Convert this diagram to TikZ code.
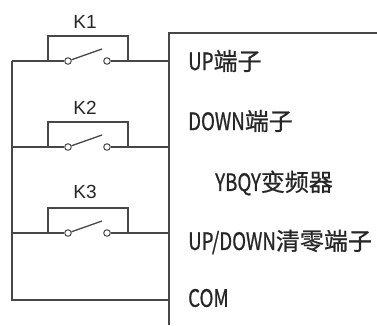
\documentclass[tikz,border=0pt]{standalone}
\usepackage{fontspec}
\setmainfont{Liberation Sans}
\newfontfamily\cjk[FakeBold=0.8]{Noto Sans CJK SC}
\newfontfamily\narrowlat[FakeStretch=0.78,FakeBold=0.8]{Noto Sans CJK SC}
\newcommand{\nlat}[1]{{\narrowlat #1}}
\tikzset{
  wire/.style={draw=black!72, line width=1.3pt},
  contact/.style={circle, draw=black!72, line width=1pt, fill=white,
    inner sep=0pt, minimum size=6.5pt},
  klabel/.style={font=\fontsize{19}{19}\selectfont, text=black!85, inner sep=0pt},
  term/.style={font=\cjk\fontsize{24}{24}\selectfont, text=black!85, inner sep=0pt, anchor=west}
}
\begin{document}
\begin{tikzpicture}[x=1pt,y=-1pt]
      \useasboundingbox (0,0) rectangle (377,325);
      % converter box
      \coordinate (boxr) at (377,33);
      \coordinate (boxtl) at (169,33);
      \coordinate (boxbl) at (169,325);
      \draw[wire] (boxr) -- (boxtl) -- (boxbl);
      \draw
        (188,61) node[term] (up){\nlat{UP}端子}
        (188,121) node[term] (down){\nlat{DOWN}端子}
        (215,183) node[term] (ybqy){\nlat{YBQY}变频器}
        (188,242) node[term] (clr){\nlat{UP/DOWN}清零端子}
        (188,298) node[term] (com){\nlat{COM}};
      % switches
      \draw
        (85,22) node[klabel] (k1){K1}
        (85,108) node[klabel] (k2){K2}
        (85,192) node[klabel] (k3){K3};
      \draw
        (68,61) node[contact] (k1a){}
        (107,61) node[contact] (k1b){}
        (68,147) node[contact] (k2a){}
        (107,147) node[contact] (k2b){}
        (68,233) node[contact] (k3a){}
        (107,233) node[contact] (k3b){};
      \coordinate (bus1) at (12,61);
      \coordinate (bus2) at (12,147);
      \coordinate (bus3) at (12,233);
      \coordinate (bus4) at (12,300);
      \coordinate (s1l) at (48,61);
      \coordinate (s1r) at (128,61);
      \coordinate (s2l) at (48,147);
      \coordinate (s2r) at (128,147);
      \coordinate (s3l) at (48,233);
      \coordinate (s3r) at (128,233);
      \coordinate (t1) at (169,61);
      \coordinate (t2) at (169,147);
      \coordinate (t3) at (169,233);
      \coordinate (t4) at (169,300);
      \coordinate (k1tip) at (102,49);
      \coordinate (k2tip) at (102,135);
      \coordinate (k3tip) at (102,221);
      \begin{scope}[wire]
        \draw (bus1) -- (bus4) -- (t4);
        \draw (bus1) -- (s1l) -- (k1a);
        \draw (k1b) -- (s1r) -- (t1);
        \draw (s1l) -- ++(0,-25) -| (s1r);
        \draw (k1a) -- (k1tip);
        \draw (bus2) -- (s2l) -- (k2a);
        \draw (k2b) -- (s2r) -- (t2);
        \draw (s2l) -- ++(0,-25) -| (s2r);
        \draw (k2a) -- (k2tip);
        \draw (bus3) -- (s3l) -- (k3a);
        \draw (k3b) -- (s3r) -- (t3);
        \draw (s3l) -- ++(0,-25) -| (s3r);
        \draw (k3a) -- (k3tip);
      \end{scope}
    \end{tikzpicture}
\end{document}
